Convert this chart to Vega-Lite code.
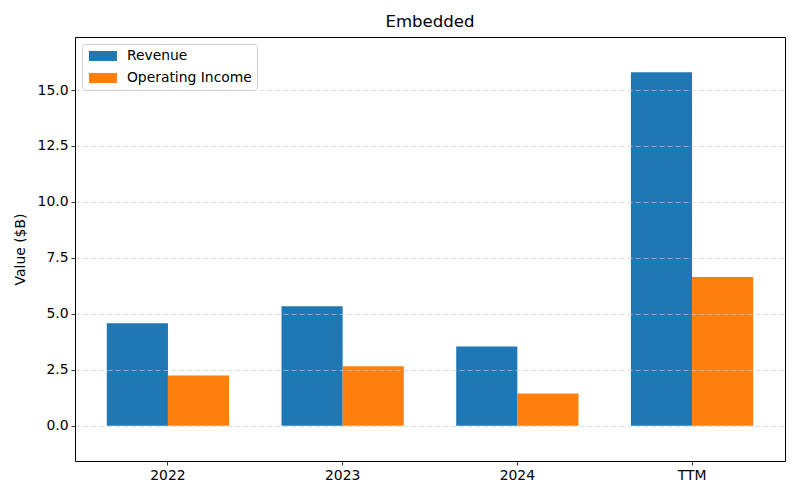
{
  "$schema": "https://vega.github.io/schema/vega-lite/v6.json",
  "width": 710,
  "height": 424,
  "autosize": {"type": "none"},
  "padding": {"left": 75, "top": 37, "right": 15, "bottom": 39},
  "title": {"text": "Embedded", "fontSize": 16.6, "font": "DejaVu Sans", "fontWeight": "normal", "color": "black", "offset": 6},
  "data": {
    "values": [
      {"Period": "2022", "Series": "Revenue", "Value": 4.58},
      {"Period": "2022", "Series": "Operating Income", "Value": 2.24},
      {"Period": "2023", "Series": "Revenue", "Value": 5.34},
      {"Period": "2023", "Series": "Operating Income", "Value": 2.65},
      {"Period": "2024", "Series": "Revenue", "Value": 3.54},
      {"Period": "2024", "Series": "Operating Income", "Value": 1.44},
      {"Period": "TTM", "Series": "Revenue", "Value": 15.79},
      {"Period": "TTM", "Series": "Operating Income", "Value": 6.64}
    ]
  },
  "mark": {"type": "bar"},
  "encoding": {
    "x": {
      "field": "Period", "type": "nominal", "sort": ["2022", "2023", "2024", "TTM"],
      "scale": {"paddingInner": 0.3, "paddingOuter": 0.182},
      "axis": {"title": null, "labelAngle": 0, "grid": false, "domain": false, "tickColor": "black", "tickSize": 4, "tickWidth": 0.8, "labelFontSize": 13.9, "labelColor": "black", "labelPadding": 3}
    },
    "xOffset": {"field": "Series", "type": "nominal", "sort": ["Revenue", "Operating Income"], "scale": {"paddingInner": 0, "paddingOuter": 0}},
    "y": {
      "field": "Value", "type": "quantitative",
      "scale": {"domain": [-1.58, 17.37], "nice": false, "zero": false},
      "axis": {
        "title": "Value ($B)", "values": [0, 2.5, 5, 7.5, 10, 12.5, 15], "format": ".1f",
        "grid": true, "gridColor": "#cccccc", "gridOpacity": 0.8, "gridDash": [5, 3], "gridWidth": 0.8,
        "domain": false, "tickColor": "black", "tickSize": 4, "tickWidth": 0.8,
        "labelFontSize": 13.9, "labelColor": "black", "labelPadding": 3,
        "titleFontSize": 13.9, "titleFontWeight": "normal", "titleColor": "black", "titlePadding": 10,
        "zindex": 1
      }
    },
    "color": {
      "field": "Series", "type": "nominal",
      "scale": {"domain": ["Revenue", "Operating Income"], "range": ["#1f77b4", "#ff7f0e"]},
      "legend": {
        "title": null, "orient": "none", "legendX": 7, "legendY": 7,
        "fillColor": "white", "strokeColor": "#d0d0d0", "cornerRadius": 3, "padding": 5,
        "symbolType": "M-1,-1L4.6,-1L4.6,1L-1,1Z", "symbolSize": 100, "symbolStrokeWidth": 0, "symbolOpacity": 1,
        "labelFontSize": 13.9, "labelColor": "black", "rowPadding": 7, "labelOffset": 26
      }
    }
  },
  "config": {
    "font": "DejaVu Sans",
    "view": {"stroke": "black", "strokeWidth": 1}
  }
}
